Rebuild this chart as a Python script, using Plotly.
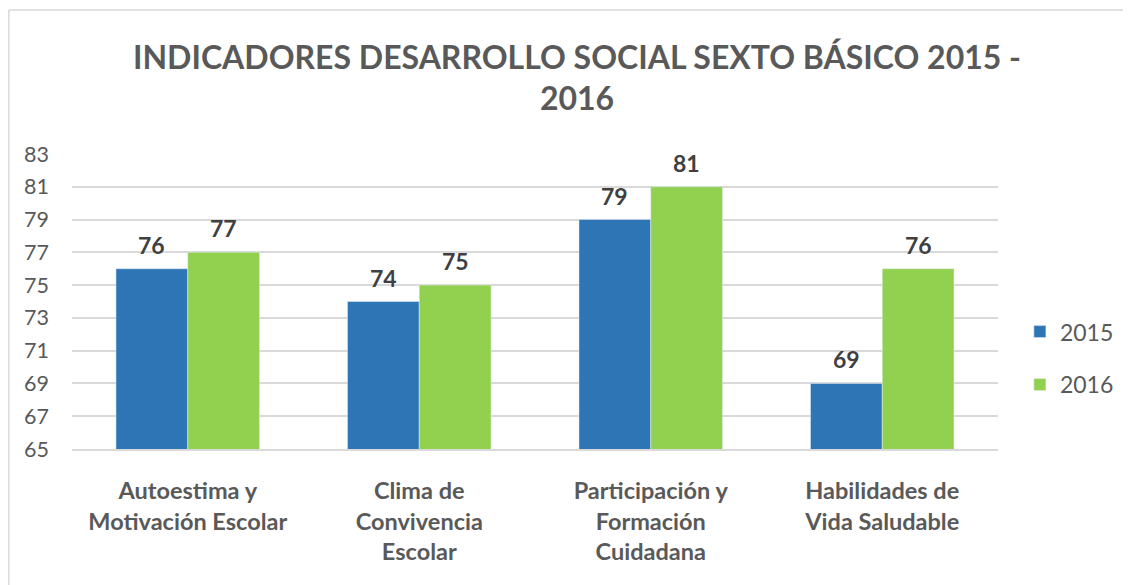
import plotly.graph_objects as go

categories = ["Autoestima y<br>Motivación Escolar", "Clima de<br>Convivencia<br>Escolar",
              "Participación y<br>Formación<br>Cuidadana", "Habilidades de<br>Vida Saludable"]
values_2015 = [76, 74, 79, 69]
values_2016 = [77, 75, 81, 76]
tick_vals = [65, 67, 69, 71, 73, 75, 77, 79, 81, 83]

FONT = "Lato"
W, H = 1123, 577  # page body adds 8px margin

fig = go.Figure()
fig.add_trace(go.Bar(name="2015", x=categories, y=values_2015, marker_color="#2E75B6",
                     legendgroup="a"))
fig.add_trace(go.Bar(name="2016", x=categories, y=values_2016, marker_color="#92D050",
                     legendgroup="b"))

label_font = dict(family=FONT, size=23, color="#404040", weight="bold")
for vals, dx in ((values_2015, -36), (values_2016, 36)):
    for c, v in zip(categories, vals):
        fig.add_annotation(x=c, y=v, text=str(v), showarrow=False, xref="x", yref="y",
                           xshift=dx, yshift=24, yanchor="middle", font=label_font)

PW = W - 64 - 128
fig.update_layout(
    width=W, height=H,
    paper_bgcolor="white", plot_bgcolor="white",
    margin=dict(l=64, r=128, t=146, b=136),
    barmode="group", bargap=0.38, bargroupgap=0,
    title=dict(text="INDICADORES DESARROLLO SOCIAL SEXTO BÁSICO 2015 -<br>2016",
               x=569 / W, xanchor="center", y=1 - 60.5 / H, yanchor="middle",
               font=dict(family=FONT, size=32, color="#595959", weight="bold")),
    font=dict(family=FONT, color="#595959"),
    legend=dict(x=(1017 - 64) / PW, xanchor="left", y=0.308, yanchor="middle",
                font=dict(family=FONT, size=23, color="#595959"),
                itemwidth=30, tracegroupgap=20, bgcolor="rgba(0,0,0,0)"),
    yaxis=dict(range=[65, 83], tickvals=tick_vals, showgrid=True, gridcolor="#D9D9D9",
               gridwidth=1.5, zeroline=False, showline=False,
               tickfont=dict(family=FONT, size=21.5, color="#595959"), ticklabelstandoff=22),
    xaxis=dict(showline=True, linecolor="#D9D9D9", linewidth=1.5,
               tickfont=dict(family=FONT, size=23.5, color="#595959", weight="bold"),
               ticklabelstandoff=20),
)

# chart border (top and left edges visible)
fig.add_shape(type="line", xref="paper", yref="paper",
              x0=(0.5 - 64) / PW, x1=(W - 64) / PW,
              y0=1 + (146 - 2) / 295, y1=1 + (146 - 2) / 295,
              line=dict(color="#D9D9D9", width=1.5))
fig.add_shape(type="line", xref="paper", yref="paper",
              x0=(0.5 - 64) / PW, x1=(0.5 - 64) / PW,
              y0=-136 / 295, y1=1 + (146 - 2) / 295,
              line=dict(color="#D9D9D9", width=1.5))

fig.write_html("out.html")
